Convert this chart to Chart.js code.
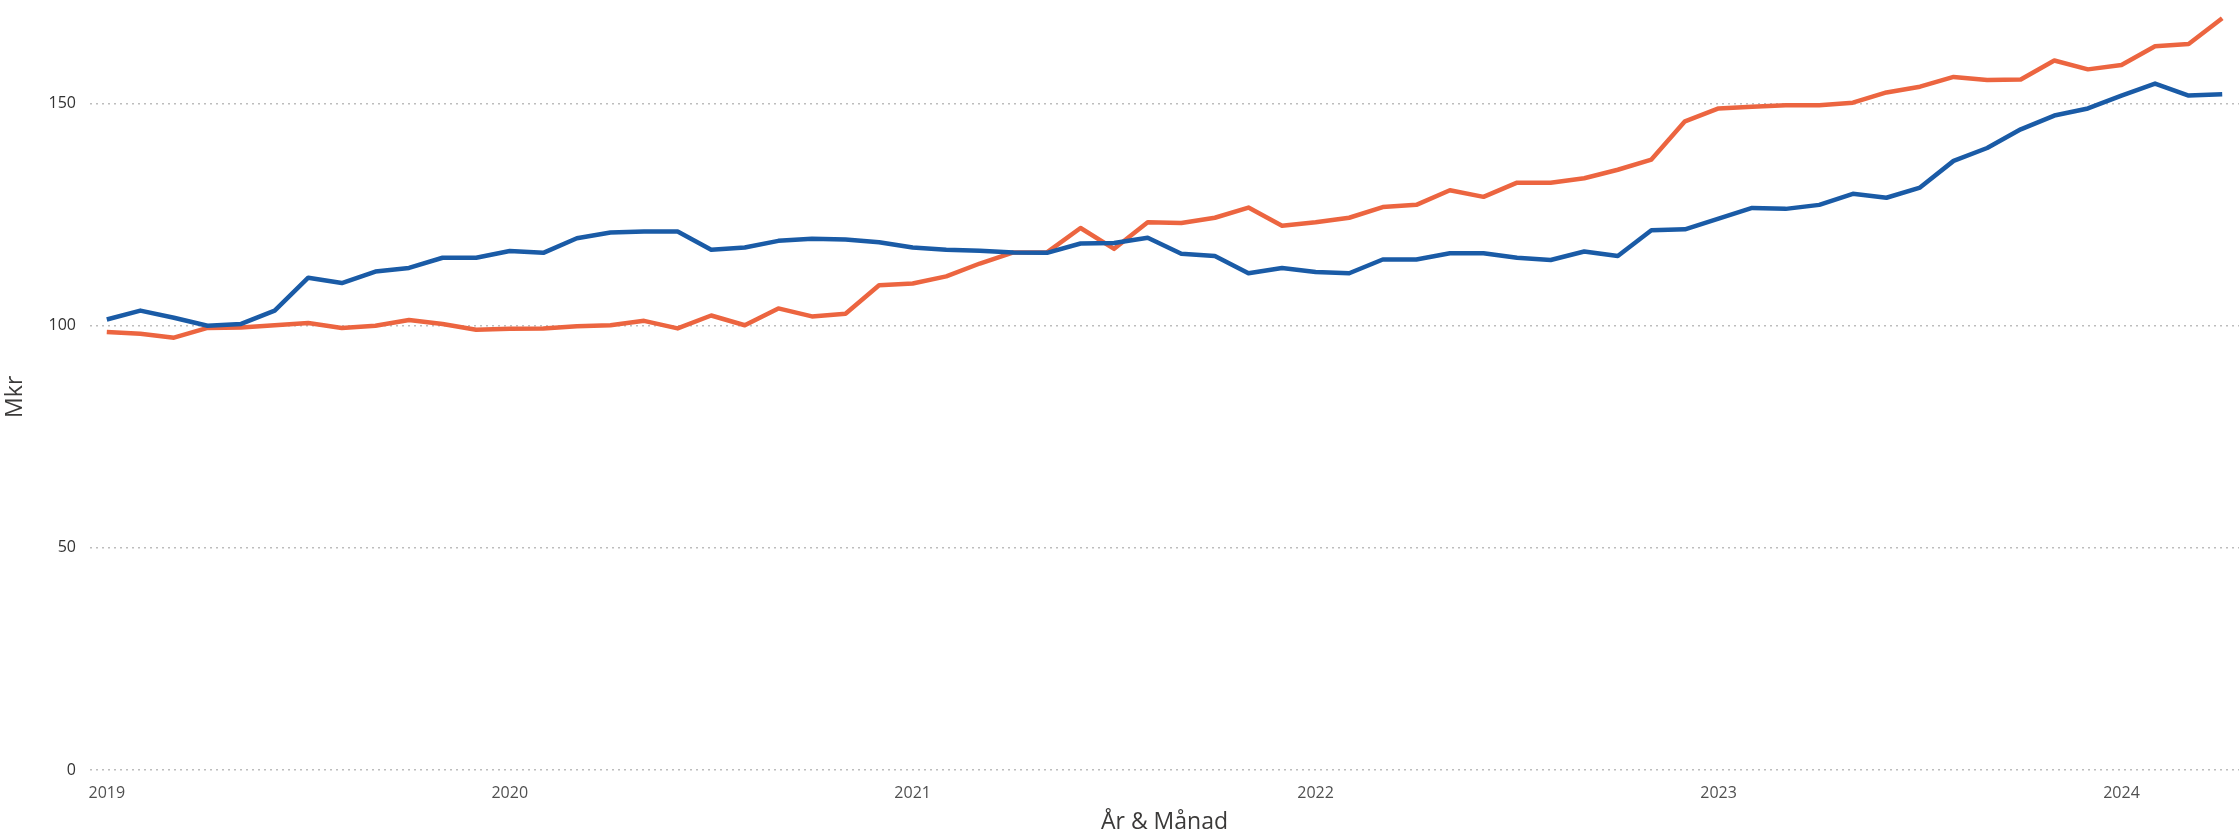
<!DOCTYPE html>
<html>
<head>
<meta charset="utf-8">
<script src="https://cdn.jsdelivr.net/npm/chart.js@4.4.1/dist/chart.umd.min.js"></script>
<style>
  html, body { margin: 0; padding: 0; background: #fff; }
  #wrap { width: 2239px; height: 836px; }
</style>
</head>
<body>
<div id="wrap"><canvas id="lineChart"></canvas></div>
<script>
// months Jan 2019 - Apr 2024
const months = [
    '2019-01','2019-02','2019-03','2019-04','2019-05','2019-06','2019-07','2019-08','2019-09','2019-10','2019-11','2019-12',
    '2020-01','2020-02','2020-03','2020-04','2020-05','2020-06','2020-07','2020-08','2020-09','2020-10','2020-11','2020-12',
    '2021-01','2021-02','2021-03','2021-04','2021-05','2021-06','2021-07','2021-08','2021-09','2021-10','2021-11','2021-12',
    '2022-01','2022-02','2022-03','2022-04','2022-05','2022-06','2022-07','2022-08','2022-09','2022-10','2022-11','2022-12',
    '2023-01','2023-02','2023-03','2023-04','2023-05','2023-06','2023-07','2023-08','2023-09','2023-10','2023-11','2023-12',
    '2024-01','2024-02','2024-03','2024-04'
];

const blueValues = [
    101.4, 103.4, 101.8, 100.0, 100.4, 103.4, 110.8, 109.6, 112.2, 113.0, 115.3, 115.3,
    116.8, 116.4, 119.7, 121.0, 121.2, 121.2, 117.1, 117.6, 119.1, 119.6, 119.4, 118.8,
    117.6, 117.1, 116.9, 116.5, 116.4, 118.5, 118.6, 119.8, 116.2, 115.7, 111.8, 113.0,
    112.1, 111.8, 114.9, 114.9, 116.3, 116.3, 115.3, 114.8, 116.7, 115.7, 121.5, 121.7,
    124.1, 126.5, 126.3, 127.2, 129.7, 128.8, 131.1, 137.1, 140.0, 144.2, 147.3, 148.9,
    151.8, 154.5, 151.8, 152.1
];

const orangeValues = [
    98.6, 98.2, 97.3, 99.5, 99.6, 100.1, 100.6, 99.5, 100.0, 101.3, 100.4, 99.1,
    99.3, 99.4, 99.9, 100.1, 101.1, 99.4, 102.3, 100.1, 103.9, 102.1, 102.7, 109.1,
    109.5, 111.1, 114.0, 116.5, 116.5, 122.0, 117.3, 123.3, 123.1, 124.3, 126.6, 122.5,
    123.3, 124.3, 126.7, 127.2, 130.5, 129.0, 132.2, 132.2, 133.2, 135.1, 137.4, 146.0,
    148.9, 149.3, 149.6, 149.6, 150.2, 152.5, 153.8, 156.0, 155.3, 155.4, 159.7, 157.7,
    158.7, 162.9, 163.4, 169.2
];

const yTicks = [0, 50, 100, 150];

const tickFont = { family: "'Segoe UI', 'Open Sans', sans-serif", size: 16 };
const titleFont = { family: "'Segoe UI', 'Open Sans', sans-serif", size: 23 };

document.addEventListener('DOMContentLoaded', function() {
    const ctx = document.getElementById('lineChart').getContext('2d');

    new Chart(ctx, {
        type: 'line',
        data: {
            labels: months,
            datasets: [{
                label: 'Serie 1',
                data: blueValues,
                borderColor: '#1A5BA6',
                borderWidth: 4.5,
                pointRadius: 0,
                tension: 0,
                clip: false,
                borderJoinStyle: 'round'
            }, {
                label: 'Serie 2',
                data: orangeValues,
                borderColor: '#EC6540',
                borderWidth: 4.5,
                pointRadius: 0,
                tension: 0,
                clip: false,
                borderJoinStyle: 'round'
            }]
        },
        options: {
            responsive: true,
            maintainAspectRatio: false,
            animation: false,
            layout: { padding: { top: 0, right: 0, bottom: 0, left: 0 } },
            plugins: {
                legend: { display: false },
                tooltip: { enabled: false }
            },
            scales: {
                x: {
                    offset: true,
                    grid: { display: false },
                    border: { display: false },
                    afterFit: function(scale) { scale.height = 66; },
                    ticks: {
                        autoSkip: false,
                        maxRotation: 0,
                        padding: 6,
                        color: '#505050',
                        font: tickFont,
                        callback: function(value) {
                            const m = months[value];
                            return m.endsWith('-01') ? m.slice(0, 4) : '';
                        }
                    },
                    title: {
                        display: true,
                        text: 'År & Månad',
                        color: '#3B3A39',
                        font: titleFont,
                        padding: { top: 0, bottom: 0 }
                    }
                },
                y: {
                    min: 0,
                    max: 168,
                    afterFit: function(scale) { scale.width = 90; },
                    afterBuildTicks: function(scale) {
                        scale.ticks = yTicks.map(function(v) { return { value: v }; });
                    },
                    // dotted gridlines (v4 takes the dash from border)
                    border: { display: false, dash: [2, 4] },
                    grid: {
                        color: '#BDBDBD',
                        lineWidth: 1.5,
                        drawTicks: false
                    },
                    ticks: {
                        padding: 14,
                        color: '#333333',
                        font: tickFont
                    },
                    title: {
                        display: true,
                        text: 'Mkr',
                        color: '#3B3A39',
                        font: titleFont,
                        padding: { top: 2, bottom: 0 }
                    }
                }
            }
        }
    });
});
</script>
</body>
</html>
